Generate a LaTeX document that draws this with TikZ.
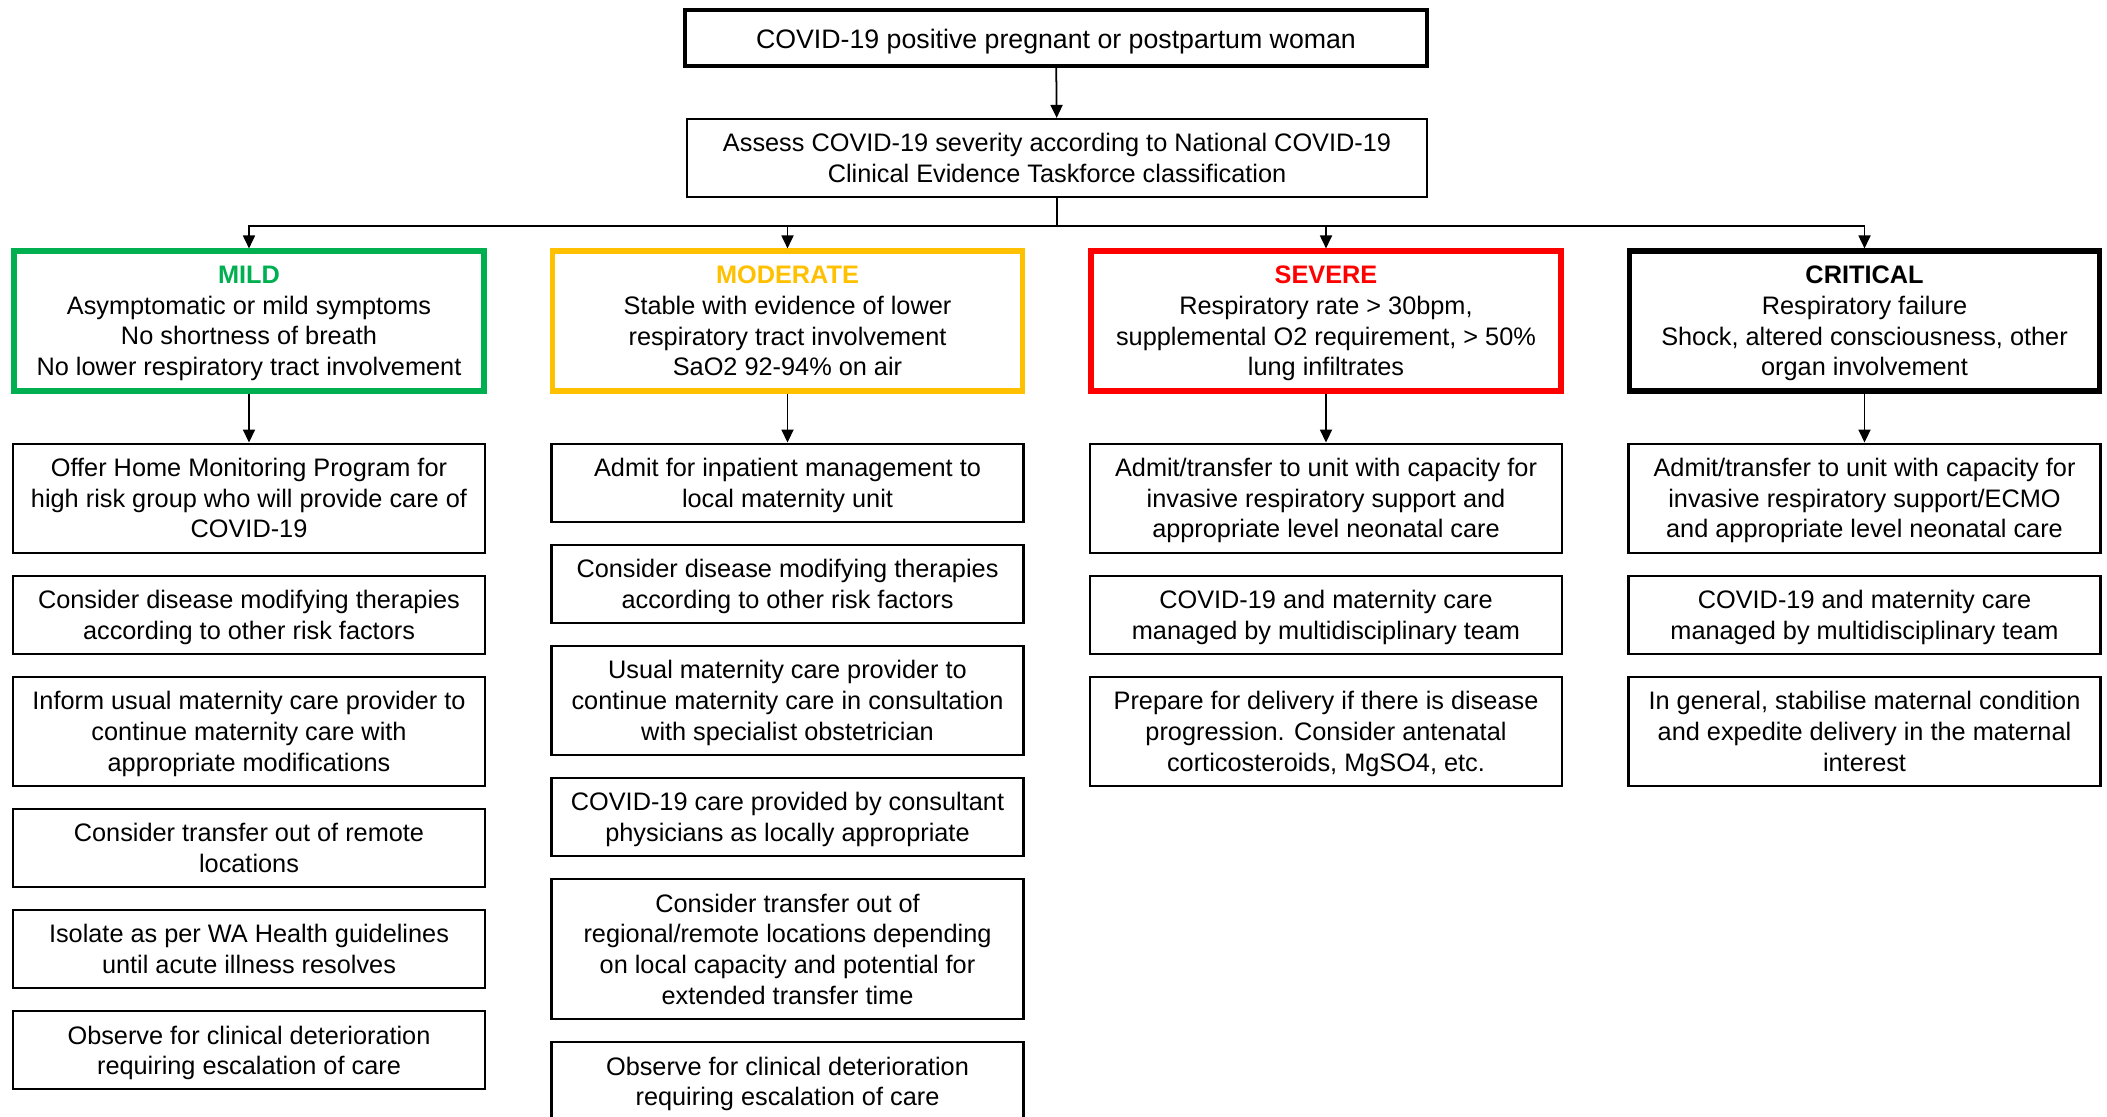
\documentclass[tikz,border=0pt]{standalone}
\usepackage{fontspec}
\setmainfont{Liberation Sans}
\usetikzlibrary{arrows.meta,positioning}
\definecolor{mildgreen}{HTML}{00B050}
\definecolor{modamber}{HTML}{FFC000}
\definecolor{sevred}{HTML}{FF0000}

\begin{document}
\begin{tikzpicture}[->,>={Triangle[length=0.13cm,width=0.12cm]},line width=0.5pt,node distance=0.21cm,
	every node/.style={font=\fontsize{7.2}{8.7}\selectfont,align=center},
	start node/.style={draw,line width=1.15pt,minimum width=7.42cm,minimum height=0.56cm,inner sep=0pt,font=\fontsize{7.6}{8.7}\selectfont,execute at begin node={\rule{0pt}{7.4pt}}},
	level node/.style={draw,line width=1.45pt,minimum width=4.70cm,minimum height=1.40cm,inner sep=0pt,text depth=-0.7pt},
	action node/.style={draw,line width=0.6pt,minimum width=4.72cm,minimum height=0.78cm,inner sep=0pt,text depth=-0.7pt}]
	\useasboundingbox (0,0) rectangle (21.07,-11.17);
	\node[start node] (woman) at (10.56,-0.38) {COVID-19 positive pregnant or postpartum woman};
	\node[action node,minimum width=7.40cm] (assess) at (10.57,-1.58) {Assess COVID-19 severity according to National COVID-19\\Clinical Evidence Taskforce classification};
	% severity levels
	\node[level node,draw=mildgreen] (mild) at (2.49,-3.21) {\textcolor{mildgreen}{\bfseries MILD}\\Asymptomatic or mild symptoms\\No shortness of breath\\No lower respiratory tract involvement};
	\node[level node,draw=modamber] (moderate) at (7.875,-3.21) {\textcolor{modamber}{\bfseries MODERATE}\\Stable with evidence of lower\\respiratory tract involvement\\SaO2 92-94\% on air};
	\node[level node,draw=sevred] (severe) at (13.26,-3.21) {\textcolor{sevred}{\bfseries SEVERE}\\Respiratory rate > 30bpm,\\supplemental O2 requirement, > 50\%\\lung infiltrates};
	\node[level node] (critical) at (18.645,-3.21) {{\bfseries CRITICAL}\\Respiratory failure\\Shock, altered consciousness, other\\organ involvement};
	% mild
	\node[action node,minimum height=1.09cm,below=0.49cm of mild] (m1) {Offer Home Monitoring Program for\\high risk group who will provide care of\\COVID-19};
	\node[action node,below=of m1] (m2) {Consider disease modifying therapies\\according to other risk factors};
	\node[action node,minimum height=1.09cm,below=of m2] (m3) {Inform usual maternity care provider to\\continue maternity care with\\appropriate modifications};
	\node[action node,below=of m3] (m4) {Consider transfer out of remote\\locations};
	\node[action node,below=of m4] (m5) {Isolate as per WA Health guidelines\\until acute illness resolves};
	\node[action node,below=of m5] (m6) {Observe for clinical deterioration\\requiring escalation of care};
	% moderate
	\node[action node,below=0.49cm of moderate] (o1) {Admit for inpatient management to\\local maternity unit};
	\node[action node,below=of o1] (o2) {Consider disease modifying therapies\\according to other risk factors};
	\node[action node,minimum height=1.09cm,below=of o2] (o3) {Usual maternity care provider to\\continue maternity care in consultation\\with specialist obstetrician};
	\node[action node,below=of o3] (o4) {COVID-19 care provided by consultant\\physicians as locally appropriate};
	\node[action node,minimum height=1.40cm,below=of o4] (o5) {Consider transfer out of\\regional/remote locations depending\\on local capacity and potential for\\extended transfer time};
	\node[action node,below=of o5] (o6) {Observe for clinical deterioration\\requiring escalation of care};
	% severe
	\node[action node,minimum height=1.09cm,below=0.49cm of severe] (s1) {Admit/transfer to unit with capacity for\\invasive respiratory support and\\appropriate level neonatal care};
	\node[action node,below=of s1] (s2) {COVID-19 and maternity care\\managed by multidisciplinary team};
	\node[action node,minimum height=1.09cm,below=of s2] (s3) {Prepare for delivery if there is disease\\progression. Consider antenatal\\corticosteroids, MgSO4, etc.};
	% critical
	\node[action node,minimum height=1.09cm,below=0.49cm of critical] (c1) {Admit/transfer to unit with capacity for\\invasive respiratory support/ECMO\\and appropriate level neonatal care};
	\node[action node,below=of c1] (c2) {COVID-19 and maternity care\\managed by multidisciplinary team};
	\node[action node,minimum height=1.09cm,below=of c2] (c3) {In general, stabilise maternal condition\\and expedite delivery in the maternal\\interest};
	\coordinate[below=0.28cm of assess.south] (split);
	\draw (woman) -- (assess);
	\draw[-] (assess) -- (split);
	\draw (split) -| (mild);
	\draw (split) -| (moderate);
	\draw (split) -| (severe);
	\draw (split) -| (critical);
	\draw (mild) -- (m1);
	\draw (moderate) -- (o1);
	\draw (severe) -- (s1);
	\draw (critical) -- (c1);
\end{tikzpicture}
\end{document}
